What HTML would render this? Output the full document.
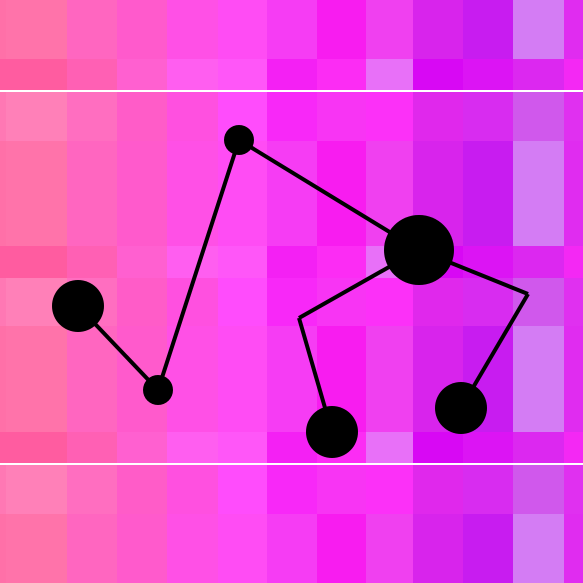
<!DOCTYPE html>
<html><head><meta charset="utf-8"><style>html,body{margin:0;padding:0;background:#fff}svg{display:block}</style></head>
<body>
<svg id="chart" width="583" height="583" viewBox="0 0 583 583" xmlns="http://www.w3.org/2000/svg"></svg>
<script>
const colEdges = [0,6,67,117,167,218,267,317,366,413,463,513,564,583];
const rowEdges = [0,59,91,141,193,246,278,326,379,432,464,514,583];
const rowPalette = [0,1,2,0,0,1,2,0,0,1,2,0];
const palette0 = ["#ff70a8","#ff73aa","#ff66c0","#ff5acc","#ff50e6","#ff4cf4","#f63cf4","#f81cf0","#f040f0","#d824ec","#c81cf0","#d47cf4","#e02cf0"];
const palette1 = ["#ff5ca0","#ff5ca0","#ff60b4","#ff60d0","#ff5ef0","#ff56f8","#f420f4","#fc2cf4","#e870f8","#d808f4","#dc14f4","#dc28f0","#f428f4"];
const palette2 = ["#ff78b4","#ff80b8","#ff6ec0","#ff5cc8","#ff50e0","#ff4cfc","#f828f8","#f834f4","#fc30f8","#e028ec","#d82cf0","#d058ec","#e030f0"];
const nodeX = [78,158,239,419,299,528,332,461];
const nodeY = [306,390,140,250,318,294,432,408];
const nodeR = [26,15,15,35,0,0,26,26];
const edgeFrom = [0,1,2,3,5,3,4];
const edgeTo = [1,2,3,5,7,4,6];
const whiteLines = [91,464];

const NS = "http://www.w3.org/2000/svg";
const svg = document.getElementById("chart");
const pals = [palette0,palette1,palette2];
function mk(t,a){const e=document.createElementNS(NS,t);for(const k in a)e.setAttribute(k,a[k]);svg.appendChild(e);return e;}
for(let r=0;r<rowPalette.length;r++){
  for(let c=0;c<colEdges.length-1;c++){
    const e=mk("rect",{x:colEdges[c],y:rowEdges[r],width:colEdges[c+1]-colEdges[c],height:rowEdges[r+1]-rowEdges[r],fill:pals[rowPalette[r]][c]});
    
    
  }
}
whiteLines.forEach(y=>{
  const e=mk("line",{x1:0,x2:583,y1:y,y2:y,stroke:"#fff","stroke-width":2});
  
  
});
for(let i=0;i<edgeFrom.length;i++){
  const a=edgeFrom[i],b=edgeTo[i];
  const e=mk("line",{x1:nodeX[a],y1:nodeY[a],x2:nodeX[b],y2:nodeY[b],stroke:"#000","stroke-width":4,"stroke-linejoin":"miter"});
  
  
}
for(let i=0;i<nodeX.length;i++){
  if(nodeR[i]<=0)continue;
  const e=mk("circle",{cx:nodeX[i],cy:nodeY[i],r:nodeR[i],fill:"#000"});
  
  
}
</script>
</body></html>
